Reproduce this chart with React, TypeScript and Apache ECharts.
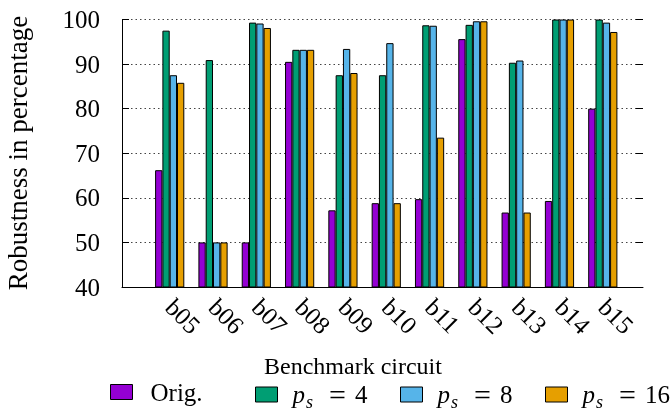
import React, { useEffect, useRef } from 'react';
import * as echarts from 'echarts';

const benchmarks = ['b05', 'b06', 'b07', 'b08', 'b09', 'b10', 'b11', 'b12', 'b13', 'b14', 'b15'];
const origValues = [66.2, 50, 50, 90.5, 57.2, 58.8, 59.7, 95.6, 56.7, 59.3, 80.0];
const ps4Values = [97.5, 90.9, 99.3, 93.2, 87.5, 87.5, 98.7, 98.8, 90.3, 100, 100];
const ps8Values = [87.5, 50, 99.1, 93.2, 93.4, 94.7, 98.6, 99.6, 90.8, 100, 99.3];
const ps16Values = [85.8, 50, 98.1, 93.2, 88.0, 58.8, 73.5, 99.6, 56.7, 100, 97.2];
const seriesNames = ['Orig.', 'ps4', 'ps8', 'ps16'];
const seriesNumbers = ['', '4', '8', '16'];
const seriesColors = ['#9400D3', '#009E73', '#56B4E9', '#E69F00'];
const yMin = 40;
const yMax = 100;
const yStep = 10;
const xTitle = 'Benchmark circuit';
const yTitle = 'Robustness in percentage';

const FONT = 'Liberation Serif';

export default function App() {
  const ref = useRef<HTMLDivElement>(null);
  useEffect(() => {
    if (!ref.current) return;
    const chart = echarts.init(ref.current, undefined, { renderer: 'svg' });
    const allValues = [origValues, ps4Values, ps8Values, ps16Values];
    const legendLefts = [110, 255, 400, 545];
    const rich = {
      i: { fontFamily: FONT, fontStyle: 'italic', fontSize: 25, lineHeight: 32, color: '#000' },
      s: {
        fontFamily: FONT,
        fontStyle: 'italic',
        fontSize: 18,
        lineHeight: 18,
        verticalAlign: 'bottom',
        color: '#000',
        padding: [0, 1, 0, 1],
      },
      e: { fontFamily: FONT, fontSize: 30, lineHeight: 32, color: '#000', padding: [0, 9, 0, 15] },
      n: { fontFamily: FONT, fontSize: 25, lineHeight: 32, color: '#000' },
    };
    const frame = { left: 122, right: 28, top: 19.5, bottom: 123 };
    const bandLeft = 148.05;
    const bandRight = 671 - 624.45;
    chart.setOption({
      animation: false,
      grid: [
        { ...frame },
        { left: bandLeft, right: bandRight, top: frame.top, bottom: frame.bottom },
      ],
      graphic: [
        {
          type: 'text',
          x: 17.5,
          y: 153,
          rotation: Math.PI / 2,
          style: {
            text: yTitle,
            fontFamily: FONT,
            fontSize: 27,
            fill: '#000',
            align: 'center',
            verticalAlign: 'middle',
          },
        },
        {
          type: 'text',
          x: 353,
          y: 366,
          style: {
            text: xTitle,
            fontFamily: FONT,
            fontSize: 24,
            fill: '#000',
            align: 'center',
            verticalAlign: 'middle',
          },
        },
      ],
      xAxis: [
        {
          type: 'value',
          gridIndex: 0,
          min: 0,
          max: 1,
          axisLine: { show: true, lineStyle: { color: '#000', width: 1 } },
          axisTick: { show: false },
          splitLine: { show: false },
          axisLabel: { show: false },
        },
        {
          type: 'category',
          gridIndex: 1,
          data: benchmarks,
          axisLine: { show: false },
          axisTick: { show: false },
          splitLine: { show: false },
          axisLabel: {
            interval: 0,
            rotate: -45,
            margin: 16,
            fontSize: 25,
            fontFamily: FONT,
            color: '#000',
          },
        },
      ],
      yAxis: [
        {
          type: 'value',
          gridIndex: 0,
          min: yMin,
          max: yMax,
          interval: yStep,
          axisLine: { show: true, lineStyle: { color: '#000', width: 1 } },
          axisTick: { show: true, inside: true, length: 7, lineStyle: { color: '#000' } },
          splitLine: { show: true, lineStyle: { color: '#444', width: 1, type: [1.5, 3] } },
          axisLabel: { margin: 22, fontSize: 25, fontFamily: FONT, color: '#000' },
        },
        {
          type: 'value',
          gridIndex: 0,
          position: 'right',
          min: yMin,
          max: yMax,
          interval: yStep,
          axisLine: { show: false },
          axisTick: { show: true, inside: true, length: 7, lineStyle: { color: '#000' } },
          splitLine: { show: false },
          axisLabel: { show: false },
        },
        {
          type: 'value',
          gridIndex: 1,
          min: yMin,
          max: yMax,
          interval: yStep,
          show: false,
        },
      ],
      legend: seriesNames.map((name, k) => ({
        data: [name],
        left: legendLefts[k],
        top: 379.5,
        padding: 0,
        itemWidth: 22,
        itemHeight: 15,
        icon: 'rect',
        itemStyle: { borderColor: '#000', borderWidth: 1 },
        formatter: () => (k === 0 ? '{n|Orig.}' : `{i|p}{s|s}{e|=}{n|${seriesNumbers[k]}}`),
        textStyle: { fontSize: 25, fontFamily: FONT, color: '#000', padding: [0, 0, 0, k === 0 ? 13 : 10], rich },
      })),
      series: seriesNames.map((name, k) => ({
        name,
        type: 'bar',
        xAxisIndex: 1,
        yAxisIndex: 2,
        barWidth: 7.3,
        barGap: '0%',
        itemStyle: { color: seriesColors[k], borderColor: '#000', borderWidth: 1 },
        data: allValues[k],
      })),
    });
    return () => chart.dispose();
  }, []);
  return <div ref={ref} style={{ position: 'fixed', left: 0, top: 0, width: 671, height: 410 }} />;
}
